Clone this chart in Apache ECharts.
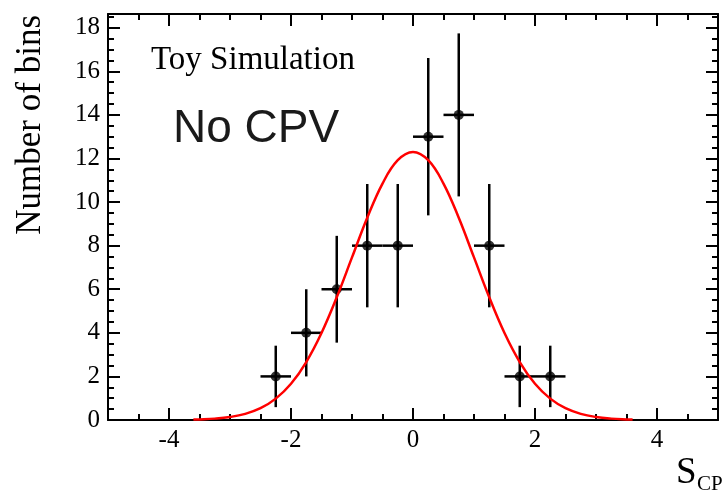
<!DOCTYPE html>
<html>
<head>
<meta charset="utf-8">
<script src="https://cdn.jsdelivr.net/npm/echarts@6/dist/echarts.min.js"></script>
<style>
html,body{margin:0;padding:0;background:#fff;}
#chart{width:726px;height:493px;}
</style>
</head>
<body>
<div id="chart"></div>
<script>
// ---- data ----
const binCenters = [-2.25, -1.75, -1.25, -0.75, -0.25, 0.25, 0.75, 1.25, 1.75, 2.25];
const binCounts  = [2, 4, 6, 8, 8, 13, 14, 8, 2, 2];
const binErrors  = [1.41, 2.0, 2.45, 2.83, 2.83, 3.61, 3.74, 2.83, 1.41, 1.41];
const binHalfWidth = 0.25;

const fitX = [-3.6, -3.5, -3.25, -3.0, -2.75, -2.5, -2.25, -2.0, -1.75, -1.5, -1.25, -1.0, -0.75, -0.5, -0.25, 0,
              0.25, 0.5, 0.75, 1.0, 1.25, 1.5, 1.75, 2.0, 2.25, 2.5, 2.75, 3.0, 3.25, 3.5, 3.6];
const fitY = [0.02, 0.027, 0.063, 0.137, 0.28, 0.54, 0.98, 1.66, 2.66, 3.99, 5.63, 7.46, 9.28, 10.85, 11.92, 12.3,
              11.92, 10.85, 9.28, 7.46, 5.63, 3.99, 2.66, 1.66, 0.98, 0.54, 0.28, 0.137, 0.063, 0.027, 0.02];

const xMajorTicks = [-4, -2, 0, 2, 4];
const yMajorTicks = [0, 2, 4, 6, 8, 10, 12, 14, 16, 18];
const xRange = [-5, 5];
const yRange = [0, 18.63];

const xTitle = 'S';
const xTitleSub = 'CP';
const yTitle = 'Number of bins';
const label1 = 'Toy Simulation';
const label2 = 'No CPV';

// ---- chart ----
const serif = '"Liberation Serif", "Times New Roman", serif';
const chart = echarts.init(document.getElementById('chart'), null, {renderer: 'canvas'});

function xAx(pos, major, showLine, showLabel) {
  const a = {
    type: 'value', position: pos, min: xRange[0], max: xRange[1],
    axisLine: {show: showLine, onZero: false, lineStyle: {color: '#000', width: 2}},
    splitLine: {show: false},
    axisTick: {show: true, inside: true, length: major ? 12 : 6, lineStyle: {color: '#000', width: 2}},
    axisLabel: {show: showLabel}
  };
  if (major) {
    a.axisTick.customValues = xMajorTicks;
    if (showLabel) {
      a.axisLabel = {show: true, customValues: xMajorTicks, color: '#000', fontFamily: serif, fontSize: 25, margin: 8};
    }
  } else {
    a.interval = 0.5;
  }
  return a;
}
function yAx(pos, major, showLine, showLabel) {
  const a = {
    type: 'value', position: pos, min: yRange[0], max: yRange[1],
    axisLine: {show: showLine, onZero: false, lineStyle: {color: '#000', width: 2}},
    splitLine: {show: false},
    axisTick: {show: true, inside: true, length: major ? 12 : 6, lineStyle: {color: '#000', width: 2}},
    axisLabel: {show: showLabel}
  };
  if (major) {
    a.axisTick.customValues = yMajorTicks;
    if (showLabel) {
      a.axisLabel = {show: true, customValues: yMajorTicks, color: '#000', fontFamily: serif, fontSize: 25, margin: 8};
    }
  } else {
    a.interval = 0.5;
  }
  return a;
}

const errData = binCenters.map((x, i) => [x, binCounts[i], binErrors[i], binHalfWidth]);
const ptData = binCenters.map((x, i) => [x, binCounts[i]]);
const fitData = fitX.map((x, i) => [x, fitY[i]]);

const option = {
  animation: false,
  backgroundColor: '#fff',
  grid: {left: 108, right: 8, top: 14, bottom: 73, containLabel: false},
  xAxis: [
    xAx('bottom', true, true, true),
    xAx('bottom', false, false, false),
    xAx('top', true, true, false),
    xAx('top', false, false, false)
  ],
  yAxis: [
    yAx('left', true, true, true),
    yAx('left', false, false, false),
    yAx('right', true, true, false),
    yAx('right', false, false, false)
  ],
  series: [
    {
      type: 'custom', xAxisIndex: 0, yAxisIndex: 0, data: errData, z: 3,
      renderItem: function (params, api) {
        const x = api.value(0), y = api.value(1), ey = api.value(2), ex = api.value(3);
        const top = api.coord([x, y + ey]);
        const bot = api.coord([x, Math.max(y - ey, 0)]);
        const l = api.coord([x - ex, y]);
        const r = api.coord([x + ex, y]);
        const st = {stroke: '#000', lineWidth: 2.5};
        return {type: 'group', children: [
          {type: 'line', shape: {x1: top[0], y1: top[1], x2: bot[0], y2: bot[1]}, style: st},
          {type: 'line', shape: {x1: l[0], y1: l[1], x2: r[0], y2: r[1]}, style: st}
        ]};
      }
    },
    {
      type: 'scatter', xAxisIndex: 0, yAxisIndex: 0, data: ptData, z: 4,
      symbol: 'circle', symbolSize: 10, itemStyle: {color: '#000'}
    },
    {
      type: 'line', xAxisIndex: 0, yAxisIndex: 0, data: fitData, z: 5,
      smooth: 0.4, showSymbol: false, symbol: 'none',
      lineStyle: {color: '#ff0000', width: 2.5}
    }
  ],
  graphic: [
    {type: 'text', left: 151, top: 44, style: {text: label1, font: '33px ' + serif, fill: '#000'}},
    {type: 'text', left: 173, top: 106, style: {text: label2, font: '46px "Liberation Sans", Arial, sans-serif', fill: '#1a1a1a'}},
    {type: 'text', x: 13, y: 15, rotation: Math.PI / 2,
      style: {text: yTitle, font: '35px ' + serif, fill: '#000', align: 'right', verticalAlign: 'top'}},
    {type: 'text', left: 676, top: 455, style: {text: xTitle, font: '37px ' + serif, fill: '#000'}},
    {type: 'text', left: 697, top: 474, style: {text: xTitleSub, font: '21px ' + serif, fill: '#000'}}
  ]
};
chart.setOption(option);
</script>
</body>
</html>
